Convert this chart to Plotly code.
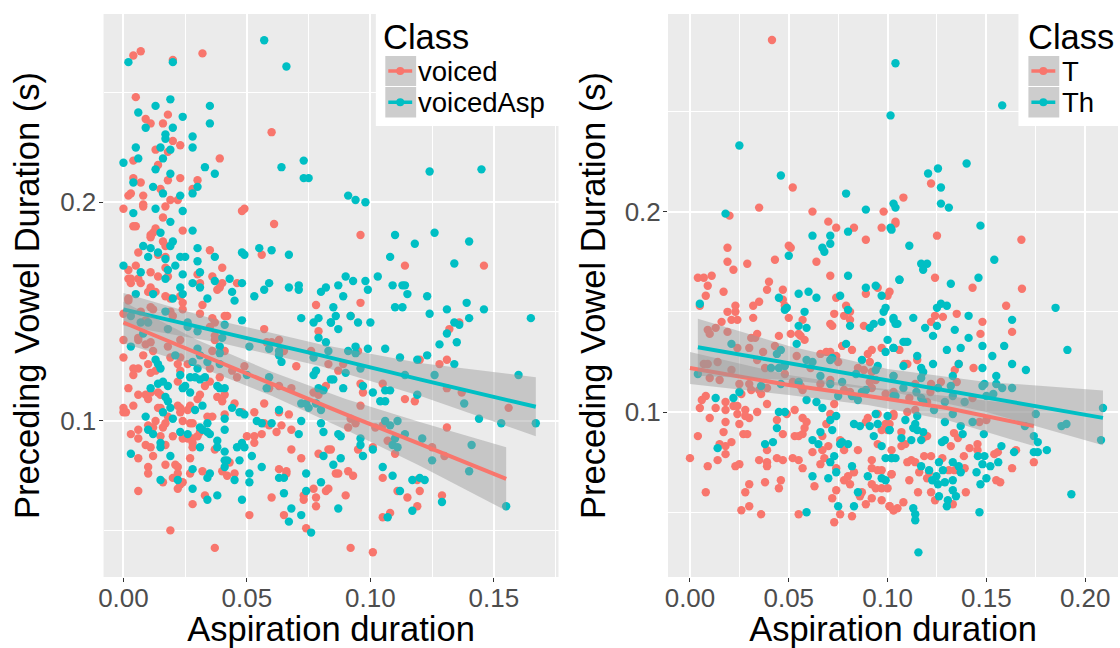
import plotly.graph_objects as go

RED = "#F8766D"
TEAL = "#00BFC4"

left_voiced = [
(.004,.267),(.007,.269),(.020,.265),(.032,.268),(.005,.248),(.009,.238),(.011,.236),(.018,.240),(.016,.236),(.060,.232),
(.020,.228),(.023,.226),(.013,.224),(.018,.223),(.039,.220),(.004,.219),(.014,.217),(.004,.211),(.007,.209),(.023,.211),
(.018,.210),(.030,.210),(.015,.206),(.028,.206),(.003,.204),(.002,.203),(.008,.203),(.019,.201),(.022,.201),(.008,.199),
(.008,.198),(.000,.197),(.017,.198),(.049,.197),(.048,.196),(.016,.193),(.061,.190),(.005,.189),(.004,.189),(.013,.188),
(.012,.186),(.011,.185),(.011,.184),(.024,.187),(.016,.182),(.017,.180),(.006,.177),(.035,.178),(.056,.176),(.014,.176),
(.017,.175),(.005,.171),(.002,.169),(.017,.170),(.011,.168),(.040,.170),(.002,.165),(.006,.165),(.003,.165),(.003,.163),
(.007,.163),(.014,.166),(.018,.166),(.030,.167),(.036,.166),(.031,.163),(.040,.163),(.039,.161),(.038,.160),(.046,.163),
(.011,.161),(.010,.159),(.013,.159),(.002,.156),(.017,.157),(.019,.156),(.023,.157),
(.002,.155),(.011,.152),(.012,.151),(.024,.154),(.024,.151),(.019,.150),(.020,.148),(.032,.153),(.031,.149),(.000,.149),
(.007,.150),(.042,.148),(.041,.148),(.036,.147),(.078,.153),(.009,.146),(.006,.138),(.006,.137),(.000,.137),(.011,.136),
(.009,.135),(.018,.134),(.023,.137),(.035,.143),(.037,.145),(.037,.139),(.037,.137),(.057,.142),(.058,.136),(.060,.136),
(.063,.137),(.065,.132),(.079,.141),(.008,.130),(.012,.132),(.000,.129),(.010,.126),(.019,.129),(.023,.129),(.022,.126),
(.036,.132),(.041,.132),(.070,.125),(.076,.132),(.083,.126),(.006,.124),(.004,.124),(.004,.121),(.011,.122),(.013,.123),
(.023,.123),(.026,.126),(.035,.124),(.044,.123),(.049,.125),(.046,.120),(.039,.120),(.022,.118),(.035,.118),(.033,.116),
(.002,.115),(.059,.115),(.063,.116),(.068,.115),(.006,.112),(.009,.112),(.011,.113),(.014,.113),(.015,.112),(.010,.110),
(.031,.112),(.030,.110),(.038,.111),(.041,.112),(.040,.109),(.077,.113),(.079,.112),(.082,.116),(.045,.108),(.057,.108),
(.000,.106),(.004,.107),(.000,.104),(.001,.104),(.014,.106),(.015,.106),(.022,.107),(.023,.106),(.027,.107),(.023,.104),
(.026,.105),(.036,.102),(.034,.102),(.041,.103),(.048,.104),(.053,.104),(.063,.104),(.067,.103),(.013,.100),(.018,.102),
(.024,.100),(.017,.099),(.010,.098),(.016,.097),(.012,.097),(.027,.099),(.028,.099),(.057,.099),(.059,.098),(.064,.098),
(.068,.096),(.062,.095),(.006,.096),(.003,.094),(.006,.092),(.020,.093),(.015,.093),(.024,.092),(.026,.092),(.028,.092),
(.030,.093),(.031,.095),(.050,.093),(.053,.093),(.056,.094),(.053,.090),(.009,.089),(.011,.088),(.017,.089),(.028,.090),
(.028,.088),(.037,.087),(.006,.083),(.012,.084),(.027,.083),(.068,.087),(.072,.083),(.079,.085),(.083,.087),(.017,.080),
(.021,.080),(.022,.079),(.010,.079),(.043,.081),(.010,.076),(.022,.076),(.027,.076),(.032,.077),(.040,.077),(.045,.076),
(.042,.075),(.063,.078),(.066,.077),(.066,.076),(.020,.074),(.016,.072),(.024,.072),(.023,.071),(.022,.069),(.006,.068),
(.033,.066),(.060,.065),(.077,.069),(.083,.069),(.082,.068),(.073,.066),(.073,.064),(.078,.065),(.028,.062),(.078,.061),
(.051,.057),(.065,.057),(.074,.051),(.019,.050),(.037,.042),
(.096,.185),(.114,.171),(.146,.171),(.096,.154),(.092,.148),(.136,.145),(.132,.142),(.095,.132),(.089,.126),(.087,.123),
(.120,.128),(.128,.126),(.131,.128),(.096,.117),(.105,.117),(.097,.113),(.131,.115),(.137,.113),(.114,.110),(.118,.109),
(.096,.107),(.156,.106),(.092,.101),(.094,.099),(.091,.097),(.102,.097),(.105,.098),(.131,.097),(.107,.091),(.101,.088),
(.095,.087),(.125,.088),(.110,.085),(.130,.084),(.084,.087),(.086,.076),(.087,.076),(.091,.077),(.093,.075),(.105,.074),
(.119,.073),(.111,.068),(.120,.068),(.115,.065),(.129,.066),(.090,.066),(.119,.061),(.108,.058),(.105,.056),(.092,.042),(.101,.040),
]
left_voicedasp = [
(.057,.274),(.066,.262),(.002,.264),(.020,.264),(.019,.247),(.013,.244),(.035,.244),(.006,.241),(.024,.239),(.035,.236),
(.009,.234),(.020,.234),(.017,.231),(.017,.229),(.028,.230),(.005,.225),(.015,.225),(.028,.225),(.019,.224),(.006,.220),
(.016,.220),(.000,.218),(.013,.215),(.033,.216),(.064,.216),(.073,.219),(.073,.211),(.075,.211),(.019,.213),(.037,.213),
(.004,.209),(.012,.207),(.030,.207),(.016,.204),(.023,.203),(.028,.204),(.013,.197),(.024,.196),(.004,.195),(.019,.191),
(.015,.186),(.028,.187),(.020,.182),(.019,.180),(.008,.180),(.011,.179),(.030,.179),(.055,.179),(.060,.178),(.067,.176),
(.048,.177),(.049,.176),(.014,.177),(.010,.175),(.017,.174),(.023,.175),(.025,.175),(.037,.175),(.030,.173),(.000,.171),
(.021,.171),(.007,.168),(.018,.169),(.031,.168),(.024,.167),(.017,.165),(.037,.164),(.043,.165),(.028,.163),(.048,.163),
(.059,.163),(.071,.162),(.071,.160),(.067,.161),(.057,.160),(.082,.161),(.080,.159),(.023,.161),(.031,.161),(.044,.159),
(.024,.158),(.053,.157),(.012,.158),(.005,.158),(.034,.156),(.045,.155),(.020,.156),
(.017,.150),(.048,.146),(.072,.147),(.079,.147),(.077,.145),(.084,.145),(.026,.145),(.026,.143),(.010,.145),(.007,.145),
(.003,.148),(.041,.144),(.030,.141),(.018,.142),(.008,.140),(.040,.138),(.079,.138),(.082,.136),(.083,.132),(.051,.134),
(.059,.133),(.063,.132),(.063,.130),(.064,.127),(.077,.129),(.003,.134),(.039,.134),(.030,.133),(.039,.131),(.031,.130),
(.021,.130),(.013,.128),(.014,.126),(.015,.124),(.028,.127),(.034,.127),(.039,.126),(.030,.124),(.050,.121),(.078,.123),
(.077,.121),(.084,.119),(.023,.121),(.027,.120),(.029,.120),(.033,.120),(.031,.119),(.059,.120),(.016,.118),(.014,.117),
(.018,.116),(.011,.115),(.025,.116),(.024,.115),(.027,.113),(.038,.116),(.039,.115),(.041,.115),(.058,.115),(.079,.115),
(.081,.114),(.017,.111),(.018,.109),(.032,.107),(.072,.108),(.074,.108),(.075,.106),(.078,.108),(.080,.105),(.044,.106),
(.063,.105),(.019,.106),(.016,.104),(.029,.105),(.047,.104),(.049,.103),(.009,.102),(.020,.101),(.041,.101),(.054,.100),
(.056,.099),(.060,.099),(.072,.100),(.080,.099),(.081,.095),(.071,.094),(.034,.099),(.031,.097),(.032,.096),(.034,.095),
(.035,.094),(.041,.096),(.010,.096),(.012,.094),(.023,.095),(.026,.094),(.038,.091),(.038,.088),(.015,.090),(.015,.088),
(.031,.088),(.048,.090),(.046,.088),(.049,.088),(.041,.086),(.019,.084),(.003,.085),(.052,.084),(.081,.084),(.041,.082),
(.042,.082),(.047,.082),(.041,.079),(.056,.079),(.028,.078),(.035,.076),(.051,.076),(.074,.076),(.034,.074),(.063,.074),
(.065,.074),(.015,.073),(.022,.073),(.045,.073),(.051,.072),(.080,.072),(.028,.069),(.074,.068),(.065,.067),(.038,.066),
(.034,.064),(.048,.064),(.068,.060),(.072,.057),(.067,.054),(.076,.049),
(.124,.214),(.145,.215),(.091,.203),(.094,.201),(.098,.200),(.110,.185),(.126,.186),(.140,.182),(.118,.181),(.108,.175),
(.134,.172),(.103,.166),(.090,.166),(.093,.164),(.098,.164),(.087,.162),(.109,.162),(.099,.160),(.113,.162),(.114,.162),
(.089,.157),(.115,.158),(.123,.157),(.110,.152),(.113,.152),(.085,.152),(.131,.151),(.139,.154),(.146,.151),(.165,.147),
(.124,.149),(.086,.148),(.092,.148),(.140,.147),(.084,.145),(.095,.145),(.100,.145),(.134,.145),(.136,.144),(.087,.142),
(.131,.140),(.135,.136),(.128,.135),(.094,.134),(.099,.133),(.106,.133),(.091,.132),(.094,.131),(.112,.129),(.123,.130),
(.119,.128),(.134,.126),(.096,.124),(.090,.122),(.114,.121),(.126,.121),(.085,.119),(.089,.115),(.097,.116),(.106,.114),
(.108,.114),(.101,.113),(.119,.112),(.106,.109),(.104,.109),(.138,.108),(.160,.121),(.144,.101),(.153,.099),(.167,.099),
(.106,.100),(.111,.100),(.108,.098),(.087,.094),(.088,.093),(.096,.092),(.114,.094),(.121,.092),(.110,.092),(.096,.089),
(.109,.089),(.111,.088),(.141,.089),(.101,.087),(.097,.084),(.088,.083),(.125,.082),(.085,.080),(.105,.079),(.109,.075),
(.140,.077),(.117,.073),(.120,.074),(.122,.073),(.112,.068),(.129,.063),(.117,.059),(.155,.061),(.087,.060),(.107,.056),
]
right_t = [
(.0415,.2856),(.052,.212),(.035,.202),(.020,.198),(.062,.200),(.070,.195),(.074,.192),(.083,.192),(.098,.200),(.097,.192),
(.104,.195),(.089,.186),(.019,.182),(.050,.183),(.051,.182),(.019,.175),(.022,.171),(.029,.174),(.043,.176),(.064,.175),
(.071,.168),(.011,.168),(.004,.167),(.007,.167),(.009,.163),(.017,.160),(.040,.165),(.039,.161),(.047,.161),(.008,.158),
(.035,.155),(.047,.156),(.089,.159),(.095,.162),(.101,.160),(.100,.158),(.074,.157),
(.005,.153),(.023,.153),(.019,.150),(.023,.150),(.032,.153),(.048,.153),(.073,.149),(.050,.147),(.057,.146),(.079,.153),
(.081,.150),(.078,.148),(.081,.146),(.071,.144),(.072,.143),(.088,.143),(.021,.146),(.024,.146),(.032,.147),(.016,.145),
(.009,.141),(.010,.139),(.013,.142),(.019,.140),(.031,.137),(.033,.137),(.034,.139),(.045,.138),(.051,.139),(.056,.138),
(.058,.136),(.055,.139),(.024,.132),(.030,.132),(.043,.133),(.037,.130),(.054,.128),(.077,.133),(.082,.131),(.092,.131),
(.090,.129),(.097,.132),(.066,.129),(.069,.130),(.071,.130),(.074,.128),(.075,.125),(.034,.126),(.007,.124),(.009,.124),
(.014,.125),(.061,.122),(.038,.122),(.021,.121),(.048,.119),(.085,.122),(.091,.125),(.088,.121),(.092,.120),(.010,.117),
(.015,.116),(.052,.115),(.025,.114),(.030,.114),(.071,.116),(.066,.114),(.091,.115),(.094,.116),(.056,.113),(.057,.111),
(.039,.112),(.031,.111),(.035,.111),(.036,.109),(.078,.111),(.081,.110),(.026,.109),(.099,.109),(.092,.112),(.008,.108),
(.006,.106),(.018,.105),(.022,.103),(.024,.103),(.039,.104),(.073,.104),(.005,.102),(.013,.102),(.018,.101),(.028,.101),
(.034,.100),(.024,.099),(.028,.098),(.030,.097),(.049,.099),(.053,.101),(.071,.099),(.095,.099),(.103,.098),(.010,.097),
(.018,.095),(.044,.096),(.057,.097),(.059,.095),(.090,.097),(.089,.095),(.025,.094),(.058,.092),(.069,.094),(.099,.094),
(.097,.091),(.100,.091),(.017,.090),(.027,.089),(.029,.089),(.047,.089),(.004,.088),(.053,.088),(.055,.088),(.057,.089),
(.067,.088),(.021,.085),(.015,.084),(.018,.083),(.018,.079),(.039,.081),(.070,.083),(.062,.080),(.067,.081),(.076,.086),
(.085,.081),(.078,.081),(.095,.084),(.014,.076),(.000,.077),(.009,.073),(.025,.074),(.023,.073),(.035,.076),(.039,.075),
(.039,.073),(.044,.077),(.047,.076),(.052,.077),(.055,.076),(.068,.077),(.066,.074),(.057,.072),(.074,.072),(.092,.076),
(.083,.070),(.092,.072),(.095,.071),(.097,.071),(.102,.069),(.080,.068),(.078,.066),(.081,.064),(.092,.064),(.094,.062),
(.097,.062),(.100,.062),(.030,.064),(.038,.065),(.046,.066),(.045,.062),(.063,.063),(.028,.060),(.008,.060),(.074,.061),
(.087,.060),(.086,.058),(.072,.057),(.092,.057),(.097,.056),(.089,.054),(.030,.053),(.026,.051),(.036,.049),(.055,.049),
(.076,.049),(.082,.048),(.101,.053),(.103,.051),(.073,.045),
(.122,.214),(.108,.207),(.104,.194),(.125,.188),(.1677,.186),(.124,.167),(.143,.162),(.168,.1615),(.160,.153),(.135,.149),
(.124,.148),(.128,.1475),(.122,.145),(.148,.145),(.163,.140),(.147,.139),(.109,.135),(.106,.131),(.115,.126),(.1085,.124),
(.110,.124),(.136,.124),(.134,.121),(.1435,.122),(.103,.118),(.114,.114),(.127,.115),(.122,.114),(.135,.115),(.1217,.110),
(.103,.110),(.111,.107),(.143,.107),(.120,.105),(.103,.099),(.110,.100),(.114,.101),(.1465,.095),(.150,.096),(.101,.094),
(.107,.090),(.120,.088),(.118,.087),(.1336,.0895),(.1356,.087),(.132,.083),(.1455,.084),(.1455,.081),(.107,.083),(.109,.084),
(.1415,.082),(.1386,.078),(.165,.081),(.1558,.080),(.154,.079),(.102,.081),(.1185,.078),(.122,.078),(.1277,.077),(.110,.075),
(.112,.076),(.114,.075),(.174,.075),(.163,.072),(.116,.070),(.121,.070),(.120,.067),(.139,.072),(.131,.071),(.134,.071),
(.102,.069),(.111,.066),(.155,.066),(.157,.065),(.1154,.060),(.122,.060),(.1396,.060),(.124,.056),(.133,.054),(.108,.055),
(.101,.053),(.105,.052),(.103,.051),
]
right_th = [
(.104,.274),(.1015,.248),(.025,.233),(.046,.218),(.079,.209),(.018,.199),(.089,.201),(.103,.204),(.104,.202),(.1015,.192),
(.102,.191),(.080,.190),(.071,.188),(.062,.188),(.071,.184),(.067,.182),(.068,.180),(.050,.178),(.080,.168),(.106,.166),
(.089,.162),(.094,.163),(.055,.159),(.060,.160),(.064,.157),(.076,.158),(.045,.157),(.097,.158),
(.005,.154),(.049,.152),(.048,.151),(.058,.150),(.080,.151),(.099,.152),(.098,.150),(.103,.146),(.105,.144),(.081,.143),
(.097,.145),(.093,.144),(.091,.142),(.055,.143),(.059,.142),(.054,.134),(.021,.134),(.079,.134),(.100,.136),(.103,.132),
(.099,.130),(.046,.131),(.044,.129),(.072,.127),(.071,.126),(.087,.126),(.059,.126),(.062,.125),(.095,.123),(.048,.123),
(.045,.122),(.041,.122),(.084,.119),(.094,.121),(.103,.118),(.004,.119),(.066,.118),(.055,.115),(.077,.115),(.036,.113),
(.046,.114),(.071,.114),(.025,.110),(.022,.107),(.013,.107),(.089,.111),(.087,.110),(.082,.108),(.075,.108),(.085,.106),
(.103,.108),(.059,.106),(.064,.105),(.067,.102),(.045,.100),(.048,.100),(.094,.099),(.100,.098),(.074,.098),(.071,.096),
(.083,.094),(.086,.093),(.091,.093),(.095,.094),(.072,.091),(.044,.092),(.101,.091),(.093,.088),(.066,.090),(.062,.086),
(.042,.085),(.038,.084),(.065,.084),(.076,.084),(.077,.085),(.080,.084),(.014,.082),(.097,.083),(.073,.078),(.071,.075),
(.099,.077),(.102,.077),(.082,.073),(.074,.070),(.090,.068),(.097,.067),(.099,.066),(.062,.068),(.070,.067),(.085,.060),
(.075,.053),(.083,.053),(.059,.050),
(.158,.253),(.140,.224),(.1255,.2215),(.1205,.219),(.127,.212),(.127,.204),(.131,.202),(.147,.193),(.111,.183),(.154,.176),
(.120,.174),(.117,.174),(.118,.171),(.146,.167),(.106,.166),(.132,.164),(.185,.152),(.125,.152),(.127,.154),(.130,.153),
(.141,.148),(.113,.147),(.163,.146),(.103,.147),(.104,.144),(.125,.143),(.119,.142),(.134,.141),(.123,.138),(.141,.137),
(.110,.135),(.108,.135),(.148,.133),(.159,.133),(.103,.132),(.137,.132),(.130,.131),(.191,.131),(.115,.128),(.153,.128),
(.123,.124),(.163,.124),(.108,.123),(.136,.124),(.117,.122),(.118,.120),(.148,.122),(.170,.121),(.155,.118),(.133,.118),
(.117,.117),(.149,.114),(.148,.113),(.155,.114),(.132,.113),(.158,.112),(.163,.112),(.1255,.112),(.108,.112),(.133,.108),
(.1146,.110),(.1535,.109),(.150,.108),(.104,.108),(.117,.107),(.118,.105),(.129,.105),(.139,.105),(.1235,.101),(.133,.099),
(.209,.102),(.175,.099),(.115,.098),(.109,.096),(.114,.094),(.129,.095),(.143,.095),(.1905,.094),(.188,.093),(.137,.093),
(.1695,.093),(.101,.091),(.113,.092),(.115,.091),(.118,.090),(.138,.089),(.1487,.089),(.174,.088),(.107,.087),(.112,.086),
(.117,.086),(.129,.086),(.1275,.085),(.208,.086),(.176,.085),(.1576,.083),(.1806,.081),(.176,.080),(.174,.080),(.164,.080),
(.1457,.078),(.149,.078),(.102,.077),(.104,.077),(.148,.074),(.156,.075),(.126,.075),(.152,.073),(.133,.075),(.136,.073),
(.117,.073),(.121,.071),(.128,.071),(.145,.070),(.137,.070),(.1247,.068),(.150,.067),(.1226,.066),(.1255,.064),(.129,.065),
(.133,.066),(.147,.064),(.133,.061),(.1346,.058),(.126,.058),(.193,.059),(.1305,.056),(.130,.053),(.113,.052),(.1465,.050),
(.114,.049),(.114,.046),(.1156,.030),
]

# fitted lines and their confidence bands, read at a few x positions
fit_left_voiced_x = [0, .03, .06, .09, .12, .155]
fit_left_voiced_y = [.1450, .1310, .1170, .1030, .0895, .0735]
fit_left_voiced_hw = [.0095, .006, .0055, .007, .010, .0145]
fit_left_asp_x = [0, .04, .08, .12, .167]
fit_left_asp_y = [.1510, .1405, .1300, .1190, .1065]
fit_left_asp_hw = [.0075, .005, .005, .0075, .0135]
fit_right_t_x = [0, .05, .09, .13, .174]
fit_right_t_y = [.1220, .1135, .1080, .1020, .0930]
fit_right_t_hw = [.008, .005, .0045, .006, .010]
fit_right_th_x = [.004, .05, .10, .15, .209]
fit_right_th_y = [.1323, .1245, .1160, .1075, .0971]
fit_right_th_hw = [.0142, .0085, .0055, .0075, .0137]

legend_left = ["voiced", "voicedAsp"]
legend_right = ["T", "Th"]
x_ticks_left = [0, .05, .10, .15]
x_ticks_right = [0, .05, .10, .15, .20]
y_ticks = [.1, .2]

W, H = 1120, 648
fig = go.Figure()

def add_points(xa, ya, pts, col):
    fig.add_trace(go.Scatter(x=[p[0] for p in pts], y=[p[1] for p in pts], mode="markers",
                             marker=dict(color=col, size=8.4, line=dict(width=0)),
                             xaxis=xa, yaxis=ya, showlegend=False, hoverinfo="skip"))

def add_fit(xa, ya, col, fx, fy, fh):
    up = [a + b for a, b in zip(fy, fh)]
    lo = [a - b for a, b in zip(fy, fh)]
    fig.add_trace(go.Scatter(x=list(fx) + list(fx)[::-1], y=up + lo[::-1], mode="lines", fill="toself",
                             fillcolor="rgba(153,153,153,0.45)", line=dict(width=0),
                             xaxis=xa, yaxis=ya, showlegend=False, hoverinfo="skip"))
    fig.add_trace(go.Scatter(x=fx, y=fy, mode="lines", line=dict(color=col, width=4),
                             xaxis=xa, yaxis=ya, showlegend=False, hoverinfo="skip"))

add_points("x", "y", left_voiced, RED)
add_points("x", "y", left_voicedasp, TEAL)
add_fit("x", "y", TEAL, fit_left_asp_x, fit_left_asp_y, fit_left_asp_hw)
add_fit("x", "y", RED, fit_left_voiced_x, fit_left_voiced_y, fit_left_voiced_hw)
add_points("x2", "y2", right_t, RED)
add_points("x2", "y2", right_th, TEAL)
add_fit("x2", "y2", RED, fit_right_t_x, fit_right_t_y, fit_right_t_hw)
add_fit("x2", "y2", TEAL, fit_right_th_x, fit_right_th_y, fit_right_th_hw)

FONT = "Liberation Sans"
def xaxis(dom, rng, ticks, anchor):
    return dict(domain=[dom[0] / W, dom[1] / W], range=rng, tickvals=ticks, tickformat=".2f", anchor=anchor,
                showgrid=True, gridcolor="white", gridwidth=1.6, zeroline=False, showline=False,
                ticks="outside", ticklen=4, tickcolor="#333333", tickwidth=1.4, ticklabelstandoff=-6,
                tickfont=dict(size=26, color="#4d4d4d", family=FONT),
                title=dict(text="Aspiration duration", font=dict(size=34.5, color="black", family=FONT), standoff=2),
                minor=dict(dtick=.025, tick0=0, showgrid=True, gridcolor="white", gridwidth=0.8, ticks=""))
def yaxis(rng, anchor, standoff):
    return dict(domain=[1 - 577 / H, 1 - 14 / H], range=rng, tickvals=y_ticks, tickformat=".1f", anchor=anchor,
                showgrid=True, gridcolor="white", gridwidth=1.6, zeroline=False, showline=False,
                ticks="outside", ticklen=4, tickcolor="#333333", tickwidth=1.4, ticklabelstandoff=-3,
                tickfont=dict(size=26, color="#4d4d4d", family=FONT),
                title=dict(text="Preceding Vowel Duration (s)", font=dict(size=34.5, color="black", family=FONT), standoff=standoff),
                minor=dict(dtick=.05, tick0=0, showgrid=True, gridcolor="white", gridwidth=0.8, ticks=""))

shapes, annos = [], []
def px(x): return x / W
def py(y): return 1 - y / H
def legend(box_x0, box_x1, class_x, key_x0, text_x, labels):
    shapes.append(dict(type="rect", xref="paper", yref="paper", x0=px(box_x0), x1=px(box_x1), y0=py(126), y1=py(0),
                       fillcolor="white", line=dict(width=0), layer="above"))
    annos.append(dict(xref="paper", yref="paper", x=px(class_x), y=py(37), text="Class", showarrow=False,
                      xanchor="left", yanchor="middle", font=dict(size=34.5, color="black", family=FONT)))
    for (t0, t1, lab, col) in [(56, 86, labels[0], RED), (87, 117.5, labels[1], TEAL)]:
        mid = (t0 + t1) / 2
        shapes.append(dict(type="rect", xref="paper", yref="paper", x0=px(key_x0), x1=px(key_x0 + 31), y0=py(t1), y1=py(t0),
                           fillcolor="#cdcdcd", line=dict(width=0), layer="above"))
        shapes.append(dict(type="line", xref="paper", yref="paper", x0=px(key_x0 + 3), x1=px(key_x0 + 27), y0=py(mid), y1=py(mid),
                           line=dict(color=col, width=3.5), layer="above"))
        shapes.append(dict(type="circle", xref="paper", yref="paper", x0=px(key_x0 + 11), x1=px(key_x0 + 19), y0=py(mid + 4), y1=py(mid - 4),
                           fillcolor=col, line=dict(width=0), layer="above"))
        annos.append(dict(xref="paper", yref="paper", x=px(text_x), y=py(mid), text=lab, showarrow=False,
                          xanchor="left", yanchor="middle", font=dict(size=27.5, color="black", family=FONT)))

legend(372.5, 562, 378, 382, 413, legend_left)
legend(1018, 1120, 1026, 1028, 1060, legend_right)

fig.update_layout(
    width=W, height=H, autosize=False, margin=dict(l=0, r=0, t=0, b=0),
    paper_bgcolor="white", plot_bgcolor="#EBEBEB", showlegend=False,
    xaxis=xaxis((99, 556), [-.00806, .1762], x_ticks_left, "y"),
    yaxis=yaxis([.0287, .286], "x", 10),
    xaxis2=xaxis((666, 1118), [-.0111, .2166], x_ticks_right, "y2"),
    yaxis2=yaxis([.0177, .2986], "x2", 8),
    shapes=shapes, annotations=annos,
)
fig.write_html("out.html", config={"displayModeBar": False},
               post_script="document.body.style.margin='0';document.documentElement.style.overflow='hidden';")
